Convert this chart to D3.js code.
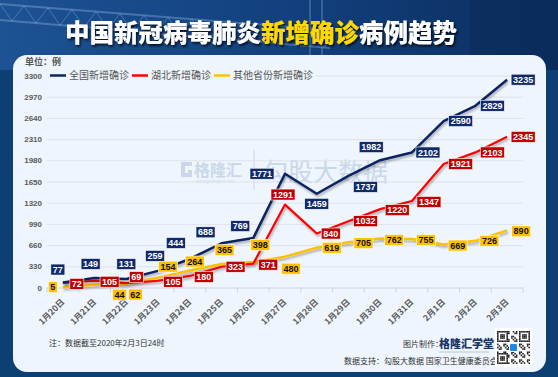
<!DOCTYPE html>
<html>
<head>
<meta charset="utf-8">
<script src="https://cdn.jsdelivr.net/npm/d3@7"></script>
<style>
body { margin: 0; background: #0c4075; }
svg { display: block; font-family: "Noto Sans CJK SC", "Noto Sans", sans-serif; }
</style>
</head>
<body>
<div id="chart"></div>
<script>
// data
const dates = ["1月20日", "1月21日", "1月22日", "1月23日", "1月24日", "1月25日", "1月26日", "1月27日",
    "1月28日", "1月29日", "1月30日", "1月31日", "2月1日", "2月2日", "2月3日"];
const national = [77, 149, 131, 259, 444, 688, 769, 1771, 1459, 1737, 1982, 2102, 2590, 2829, 3235];
const hubei = [72, 105, 69, 105, 180, 323, 371, 1291, 840, 1032, 1220, 1347, 1921, 2103, 2345];
const others = [5, 44, 62, 154, 264, 365, 398, 480, 619, 705, 762, 755, 669, 726, 890];
const yTicks = [0, 330, 660, 990, 1320, 1650, 1980, 2310, 2640, 2970, 3300];
const seriesNames = ["全国新增确诊", "湖北新增确诊", "其他省份新增确诊"];

// label nudges (px) so the boxes sit where they do in the original
const natOff = [[-5, -13], [-4, -14], [0, -15], [-3, -15], [-14, -16], [-16, -11], [-13, -12], [-23, 0],
    [0, 10], [17, 11], [-9, -13], [16, 0], [17, 0], [17, 0], [16, 0]];
const hubOff = [[14, 1], [15, 1], [10, -6], [15, 1], [14, 1], [14, 0], [15, 1], [-2, -10],
    [14, 0], [17, 0], [17, 1], [17, 1], [17, 0], [17, 0], [16, 0]];
const othOff = [[-10, 0], [25, 10], [9, 11], [10, -11], [5, -9], [3, -14], [7, -17], [6, 12],
    [15, 0], [15, 1], [14, 1.5], [14, 1], [14, 1], [14, 0], [14, 1]];

const W = 558, H = 377;
const plot = { left: 47, right: 523, top: 75.5, bottom: 287.5 };

const svg = d3.select("#chart").append("svg")
    .attr("width", W)
    .attr("height", H);

const defs = svg.append("defs");
const hdr = defs.append("linearGradient").attr("id", "hdr").attr("x1", 0).attr("x2", 1).attr("y1", 0).attr("y2", 0);
hdr.append("stop").attr("offset", "0%").attr("stop-color", "#1d5294");
hdr.append("stop").attr("offset", "55%").attr("stop-color", "#123f7c");
hdr.append("stop").attr("offset", "100%").attr("stop-color", "#0b2d5e");

const shadow = defs.append("filter").attr("id", "shadow").attr("x", "-10%").attr("y", "-10%").attr("width", "130%").attr("height", "150%");
shadow.append("feDropShadow").attr("dx", 1).attr("dy", 2).attr("stdDeviation", 1.2)
    .attr("flood-color", "#000").attr("flood-opacity", 0.3);
const tshadow = defs.append("filter").attr("id", "tshadow").attr("x", "-5%").attr("y", "-20%").attr("width", "110%").attr("height", "160%");
tshadow.append("feDropShadow").attr("dx", 1.5).attr("dy", 2).attr("stdDeviation", 1.2)
    .attr("flood-color", "#000").attr("flood-opacity", 0.75);

// outer frame + header photo stand-in
svg.append("rect").attr("width", W).attr("height", H).attr("fill", "#0c4075");
svg.append("rect").attr("width", W).attr("height", 70).attr("fill", "url(#hdr)");

// bridge truss
const truss = svg.append("g").attr("stroke", "#9fc2ee").attr("stroke-opacity", 0.35).attr("fill", "none");
truss.append("path").attr("d", "M0,4 L330,30").attr("stroke-width", 2);
truss.append("path").attr("d", "M0,20 L330,48").attr("stroke-width", 2);
for (let i = 0; i < 14; i++) {
    const x0 = i * 24;
    truss.append("path").attr("d", `M${x0},${4 + x0 * 0.079} L${x0 + 12},${20 + (x0 + 12) * 0.085} L${x0 + 24},${4 + (x0 + 24) * 0.079}`)
        .attr("stroke-width", 1);
}
truss.append("path").attr("d", "M310,0 L310,55 M322,0 L322,55").attr("stroke-width", 1.5);
svg.append("rect").attr("x", 470).attr("y", 0).attr("width", 88).attr("height", 70).attr("fill", "#0a2a58").attr("opacity", 0.5);

// title
const title = svg.append("text")
    .attr("x", 261).attr("y", 42)
    .attr("text-anchor", "middle")
    .attr("font-size", 24.5)
    .attr("font-weight", 900)
    .attr("fill", "#fff")
    .attr("filter", "url(#tshadow)");
title.append("tspan").text("中国新冠病毒肺炎");
title.append("tspan").attr("fill", "#ffd800").text("新增确诊");
title.append("tspan").text("病例趋势");

// panel
svg.append("rect")
    .attr("x", 13).attr("y", 55)
    .attr("width", 533).attr("height", 317)
    .attr("rx", 14)
    .attr("fill", "#eef5fc");

// watermark
const wm = svg.append("g").attr("fill", "#c9d7e9");
wm.append("path").attr("d", "M181,162 h11 v4 h-7 v7 h3 v-3 h4 v7 h-11 z");
wm.append("text").attr("x", 194).attr("y", 176).attr("font-size", 16).attr("font-weight", 700).text("格隆汇");
wm.append("text").attr("x", 196).attr("y", 183).attr("font-size", 4).text("www.gelonghui.com");
wm.append("line").attr("x1", 254).attr("x2", 254).attr("y1", 150).attr("y2", 190).attr("stroke", "#c9d7e9");
wm.append("text").attr("x", 263).attr("y", 181).attr("font-size", 25).text("勾股大数据");

// scales
const x = d3.scaleBand().domain(dates).range([plot.left, plot.right]).padding(0);
const cx = d => x(d) + x.bandwidth() / 2;
const y = d3.scaleLinear().domain([0, 3300]).range([plot.bottom, plot.top]);

// y grid + labels
svg.append("g")
    .attr("transform", `translate(${plot.left},0)`)
    .call(d3.axisLeft(y).tickValues(yTicks).tickFormat(d3.format("d")).tickSize(-(plot.right - plot.left)).tickPadding(5))
    .call(g => g.select(".domain").remove())
    .call(g => g.selectAll(".tick line").attr("stroke", d => d === 0 ? "#cfd4da" : "#dde3ea"))
    .call(g => g.selectAll(".tick text")
        .attr("font-family", "'Liberation Sans', Arial, sans-serif")
        .attr("font-size", 8).attr("font-weight", 700).attr("fill", "#5a5a5a"));

// x axis: boundary ticks + rotated labels
const xa = svg.append("g").attr("transform", `translate(0,${plot.bottom})`);
xa.selectAll("line.bt")
    .data(dates.concat([null]))
    .join("line")
    .attr("class", "bt")
    .attr("x1", (d, i) => plot.left + i * x.step())
    .attr("x2", (d, i) => plot.left + i * x.step())
    .attr("y1", 0).attr("y2", 5)
    .attr("stroke", "#cfd4da");
xa.selectAll("text")
    .data(dates)
    .join("text")
    .attr("transform", d => `translate(${cx(d)},13) rotate(-45)`)
    .attr("text-anchor", "end")
    .attr("dy", "0.35em")
    .attr("font-size", 8.5)
    .attr("font-weight", 700)
    .attr("fill", "#5a5a5a")
    .text(d => d);

// unit
svg.append("text").attr("x", 25).attr("y", 65).attr("font-size", 9).attr("font-weight", 700).attr("fill", "#555").text("单位：例");

// legend
const legendColors = ["#0c2461", "#ff0000", "#ffc000"];
const lg = svg.append("g").attr("transform", "translate(50,75.5)");
const lgBg = lg.append("rect").attr("y", -7).attr("height", 14).attr("fill", "#eef5fc");
let lx = 0;
seriesNames.forEach((name, i) => {
    lg.append("line").attr("x1", lx).attr("x2", lx + 16).attr("stroke", legendColors[i]).attr("stroke-width", 2.5);
    const t = lg.append("text").attr("x", lx + 19).attr("dy", "0.35em")
        .attr("font-size", 10).attr("fill", "#555").text(name);
    lx += 19 + t.node().getComputedTextLength() + 3;
});
lgBg.attr("x", -2).attr("width", lx + 2);

// lines
const line = d3.line().x((d, i) => cx(dates[i])).y(d => y(d));
const series = [
    { values: others, line: "#ffc000", box: "#ffc000", text: "#111", off: othOff, w: 2.5 },
    { values: hubei, line: "#ff0000", box: "#c00000", text: "#fff", off: hubOff, w: 2.2 },
    { values: national, line: "#0c2461", box: "#10296b", text: "#fff", off: natOff, w: 2.5 }
];
series.forEach(s => {
    svg.append("path")
        .datum(s.values)
        .attr("d", line)
        .attr("fill", "none")
        .attr("stroke", s.line)
        .attr("stroke-width", s.w)
        .attr("stroke-linejoin", "round")
        .attr("filter", "url(#shadow)");
});

// data labels
series.forEach(s => {
    const g = svg.append("g");
    s.values.forEach((v, i) => {
        const px = cx(dates[i]) + s.off[i][0];
        const py = y(v) + s.off[i][1];
        const lab = g.append("g").attr("transform", `translate(${px},${py})`);
        const rect = lab.append("rect").attr("fill", s.box).attr("stroke", "#fff").attr("stroke-width", 0.6);
        const t = lab.append("text")
            .attr("text-anchor", "middle")
            .attr("dy", "0.35em")
            .attr("font-family", "'Liberation Sans', Arial, sans-serif")
            .attr("font-size", 9)
            .attr("font-weight", 700)
            .attr("fill", s.text)
            .text(v);
        const tw = t.node().getComputedTextLength();
        rect.attr("x", -tw / 2 - 2).attr("y", -5.5).attr("width", tw + 4).attr("height", 11);
    });
});

// footer
svg.append("text").attr("x", 49).attr("y", 346).attr("font-size", 8).attr("fill", "#333").text("注：数据截至2020年2月3日24时");
svg.append("text").attr("x", 403).attr("y", 347).attr("font-size", 8).attr("fill", "#333").text("图片制作：");
svg.append("text").attr("x", 439).attr("y", 348).attr("font-size", 11).attr("font-weight", 900).attr("fill", "#1b3567").text("格隆汇学堂");
svg.append("line").attr("x1", 439).attr("x2", 489).attr("y1", 352).attr("y2", 352).attr("stroke", "#9aa7bb").attr("stroke-width", 0.6);
svg.append("text").attr("x", 344).attr("y", 364).attr("font-size", 8).attr("fill", "#333").text("数据支持：勾股大数据  国家卫生健康委员会");

// QR code stand-in
const qr = svg.append("g").attr("transform", "translate(495,328)");
qr.append("rect").attr("width", 37).attr("height", 39).attr("fill", "#fff");
const cell = 33 / 21;
const qg = qr.append("g").attr("transform", "translate(2,3)");
for (let r = 0; r < 21; r++) {
    for (let c = 0; c < 21; c++) {
        const finder = (r < 7 && c < 7) || (r < 7 && c > 13) || (r > 13 && c < 7);
        let on;
        if (finder) {
            const rr = r > 13 ? r - 14 : r, cc = c > 13 ? c - 14 : c;
            on = rr === 0 || rr === 6 || cc === 0 || cc === 6 || (rr > 1 && rr < 5 && cc > 1 && cc < 5);
        } else {
            on = ((r * 7 + c * 13 + r * c) % 5) < 2;
        }
        if (on) qg.append("rect").attr("x", c * cell).attr("y", r * cell).attr("width", cell).attr("height", cell).attr("fill", "#222");
    }
}
qr.append("rect").attr("x", 14.5).attr("y", 15.5).attr("width", 8).attr("height", 8).attr("rx", 1.5).attr("fill", "#1e88e5").attr("stroke", "#fff");
</script>
</body>
</html>
